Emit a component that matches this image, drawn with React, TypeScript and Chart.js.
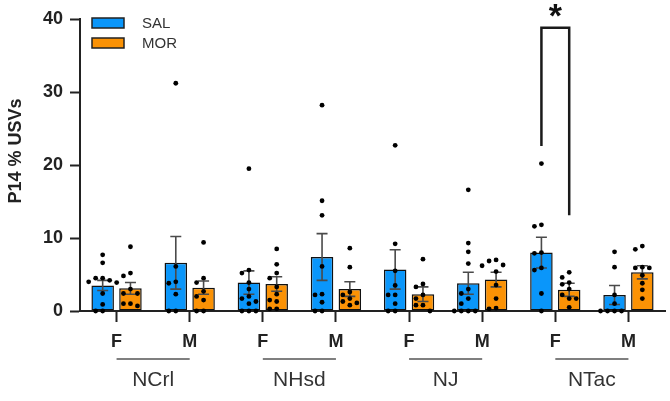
import { useEffect, useRef } from 'react';
import { Chart, registerables } from 'chart.js';

Chart.register(...registerables);

const FONT = '"Liberation Sans", Arial, Helvetica, sans-serif';

// categories
const strains = ['NCrl', 'NHsd', 'NJ', 'NTac'];
const sexLabels = ['F', 'M', 'F', 'M', 'F', 'M', 'F', 'M'];

// series (means and SEM)
const salMean = [3.5, 6.6, 3.9, 7.4, 5.7, 3.8, 8.0, 2.2];
const salSem = [0.7, 3.6, 1.6, 3.2, 2.7, 1.5, 2.1, 1.3];
const morMean = [3.1, 3.2, 3.7, 3.0, 2.3, 4.3, 2.9, 5.3];
const morSem = [0.8, 0.9, 1.0, 1.0, 1.0, 1.0, 0.9, 0.9];

// individual animals
const salPoints = [
  [7.7, 6.6, 4.5, 4.5, 4.2, 4.0, 3.9, 2.4, 0.9, 0, 0],
  [31.2, 6.1, 4.0, 3.8, 2.3, 0, 0],
  [19.5, 5.6, 5.2, 3.9, 3.0, 2.0, 1.7, 1.3, 1.0, 0, 0, 0],
  [28.2, 15.1, 13.1, 6.1, 2.3, 2.2, 1.2, 0, 0],
  [22.7, 9.2, 5.5, 3.5, 2.2, 2.2, 1.0, 0, 0],
  [16.6, 9.3, 8.1, 6.5, 3.0, 2.4, 1.7, 1.0, 0, 0, 0, 0],
  [20.2, 11.8, 11.6, 8.0, 7.9, 5.9, 5.6, 2.4, 0],
  [8.1, 6.0, 2.2, 1.0, 0, 0, 0, 0],
];
const morPoints = [
  [8.8, 5.2, 4.8, 3.0, 2.4, 2.4, 1.0, 1.0, 0.7],
  [9.4, 4.5, 3.9, 2.7, 2.0, 1.5, 0, 0],
  [8.5, 6.4, 5.2, 4.5, 3.3, 2.3, 1.5, 1.3, 0.3, 0.3],
  [8.6, 6.0, 2.6, 2.2, 1.7, 1.3, 1.1, 0.8],
  [7.1, 3.7, 3.3, 2.2, 1.7, 0.8, 0.8, 0],
  [7.0, 6.85, 6.3, 6.2, 5.4, 3.55, 1.7, 0.4, 0.3],
  [5.3, 4.6, 3.9, 3.65, 3.0, 2.2, 1.7, 1.7, 0.5],
  [8.9, 8.45, 6.0, 5.9, 5.9, 4.9, 3.8, 2.9, 1.7],
];

// significance: category index, bracket top, left leg end, right leg end
const sigCategory = 6;
const sigLevels = [38.8, 22.6, 13.1];
const sigText = '*';

const yTicks = [0, 10, 20, 30, 40];
const seriesNames = ['SAL', 'MOR'];
const seriesColors = ['#0a96fa', '#fb9205'];

export default function App() {
  const ref = useRef<HTMLCanvasElement>(null);

  useEffect(() => {
    document.body.style.margin = '0';
    const canvas = ref.current!;

    const overlay = {
      id: 'overlay',
      afterDatasetsDraw(chart: any) {
        const ctx = chart.ctx;
        const ys = chart.scales.y;
        const means = [salMean, morMean];
        const sems = [salSem, morSem];
        const pts = [salPoints, morPoints];
        // error bars
        for (let d = 0; d < 2; d++) {
          const meta = chart.getDatasetMeta(d);
          meta.data.forEach((bar: any, i: number) => {
            const x = bar.x;
            const yt = ys.getPixelForValue(means[d][i] + sems[d][i]);
            const yb = ys.getPixelForValue(Math.max(0, means[d][i] - sems[d][i]));
            ctx.save();
            ctx.strokeStyle = '#4a4a4a';
            ctx.lineWidth = 1.6;
            ctx.beginPath();
            ctx.moveTo(x, yt);
            ctx.lineTo(x, yb);
            ctx.moveTo(x - 5.5, yt);
            ctx.lineTo(x + 5.5, yt);
            ctx.moveTo(x - 5.5, yb);
            ctx.lineTo(x + 5.5, yb);
            ctx.stroke();
            ctx.restore();
          });
        }
        // dots
        const cands = [0, -7, 7, -3.5, 3.5, -10.5, 10.5, -14, 14];
        for (let d = 0; d < 2; d++) {
          const meta = chart.getDatasetMeta(d);
          meta.data.forEach((bar: any, i: number) => {
            const placed: { x: number; y: number }[] = [];
            const sorted = [...pts[d][i]].sort((a, b) => b - a);
            sorted.forEach((v) => {
              const y = ys.getPixelForValue(v);
              let px = bar.x;
              for (const off of cands) {
                const cx = bar.x + off;
                if (placed.every((p) => Math.hypot(p.x - cx, p.y - y) >= 6)) {
                  px = cx;
                  break;
                }
              }
              placed.push({ x: px, y });
            });
            ctx.save();
            ctx.fillStyle = '#000';
            placed.forEach((p) => {
              ctx.beginPath();
              ctx.arc(p.x, p.y, 2.4, 0, Math.PI * 2);
              ctx.fill();
            });
            ctx.restore();
          });
        }
      },
      afterDraw(chart: any) {
        const ctx = chart.ctx;
        const xs = chart.scales.x;
        const ys = chart.scales.y;
        // group lines and labels
        strains.forEach((s, g) => {
          const x1 = xs.getPixelForValue(g * 2);
          const x2 = xs.getPixelForValue(g * 2 + 1);
          ctx.save();
          ctx.strokeStyle = '#555';
          ctx.lineWidth = 1.6;
          ctx.beginPath();
          ctx.moveTo(x1, 359);
          ctx.lineTo(x2, 359);
          ctx.stroke();
          ctx.fillStyle = '#333';
          ctx.font = `21px ${FONT}`;
          ctx.textAlign = 'center';
          ctx.textBaseline = 'middle';
          ctx.fillText(s, (x1 + x2) / 2, 380);
          ctx.restore();
        });
        // y title
        ctx.save();
        ctx.translate(16, 151);
        ctx.rotate(-Math.PI / 2);
        ctx.font = `bold 18px ${FONT}`;
        ctx.fillStyle = '#222';
        ctx.textAlign = 'center';
        ctx.textBaseline = 'middle';
        ctx.fillText('P14 % USVs', 0, 0);
        ctx.restore();
        // legend
        seriesNames.forEach((n, k) => {
          const top = 18 + k * 20;
          ctx.save();
          ctx.fillStyle = seriesColors[k];
          ctx.fillRect(92, top, 32, 10);
          ctx.strokeStyle = '#222';
          ctx.lineWidth = 1.5;
          ctx.strokeRect(92, top, 32, 10);
          ctx.fillStyle = '#333';
          ctx.font = `15px ${FONT}`;
          ctx.textAlign = 'left';
          ctx.textBaseline = 'middle';
          ctx.fillText(n, 142, top + 6);
          ctx.restore();
        });
        // significance bracket
        const m0 = chart.getDatasetMeta(0).data[sigCategory];
        const m1 = chart.getDatasetMeta(1).data[sigCategory];
        const yTop = ys.getPixelForValue(sigLevels[0]);
        ctx.save();
        ctx.strokeStyle = '#1a1a1a';
        ctx.lineWidth = 2.5;
        ctx.beginPath();
        ctx.moveTo(m0.x, ys.getPixelForValue(sigLevels[1]));
        ctx.lineTo(m0.x, yTop);
        ctx.lineTo(m1.x, yTop);
        ctx.lineTo(m1.x, ys.getPixelForValue(sigLevels[2]));
        ctx.stroke();
        ctx.fillStyle = '#111';
        ctx.font = `bold 34px ${FONT}`;
        ctx.textAlign = 'center';
        ctx.textBaseline = 'alphabetic';
        ctx.fillText(sigText, (m0.x + m1.x) / 2, 27);
        ctx.restore();
      },
    };

    const chart = new Chart(canvas, {
      type: 'bar',
      data: {
        labels: sexLabels,
        datasets: [
          {
            label: seriesNames[0],
            data: salMean,
            backgroundColor: seriesColors[0],
            borderColor: '#111',
            borderWidth: 1.5,
            borderSkipped: false,
            categoryPercentage: 0.76,
            barPercentage: 0.81,
          },
          {
            label: seriesNames[1],
            data: morMean,
            backgroundColor: seriesColors[1],
            borderColor: '#111',
            borderWidth: 1.5,
            borderSkipped: false,
            categoryPercentage: 0.76,
            barPercentage: 0.81,
          },
        ],
      },
      options: {
        animation: false,
        responsive: false,
        devicePixelRatio: 1,
        layout: { padding: { left: 0, right: 5, top: 19, bottom: 0 } },
        plugins: { legend: { display: false }, tooltip: { enabled: false } },
        scales: {
          x: {
            type: 'category',
            offset: true,
            grid: {
              offset: false,
              drawOnChartArea: false,
              drawTicks: true,
              tickLength: 11,
              tickWidth: 2,
              tickColor: '#222',
            },
            border: { display: true, color: '#222', width: 2 },
            ticks: {
              font: { family: FONT, size: 18, weight: 'bold' },
              color: '#222',
              padding: 9,
              maxRotation: 0,
              autoSkip: false,
            },
            afterFit: (s: any) => {
              s.height = 90;
            },
          },
          y: {
            min: 0,
            max: 40,
            afterBuildTicks: (s: any) => {
              s.ticks = yTicks.map((v) => ({ value: v }));
            },
            grid: {
              drawOnChartArea: false,
              tickLength: 10,
              tickWidth: 2,
              tickColor: '#222',
            },
            border: { display: true, color: '#222', width: 2 },
            ticks: {
              font: { family: FONT, size: 18, weight: 'bold' },
              color: '#222',
              padding: 7,
            },
            afterFit: (s: any) => {
              s.width = 80;
            },
          },
        },
      },
      plugins: [overlay],
    } as any);

    return () => chart.destroy();
  }, []);

  return (
    <div style={{ width: 670, height: 401 }}>
      <canvas ref={ref} width={670} height={401} style={{ display: 'block', width: 670, height: 401 }} />
    </div>
  );
}
